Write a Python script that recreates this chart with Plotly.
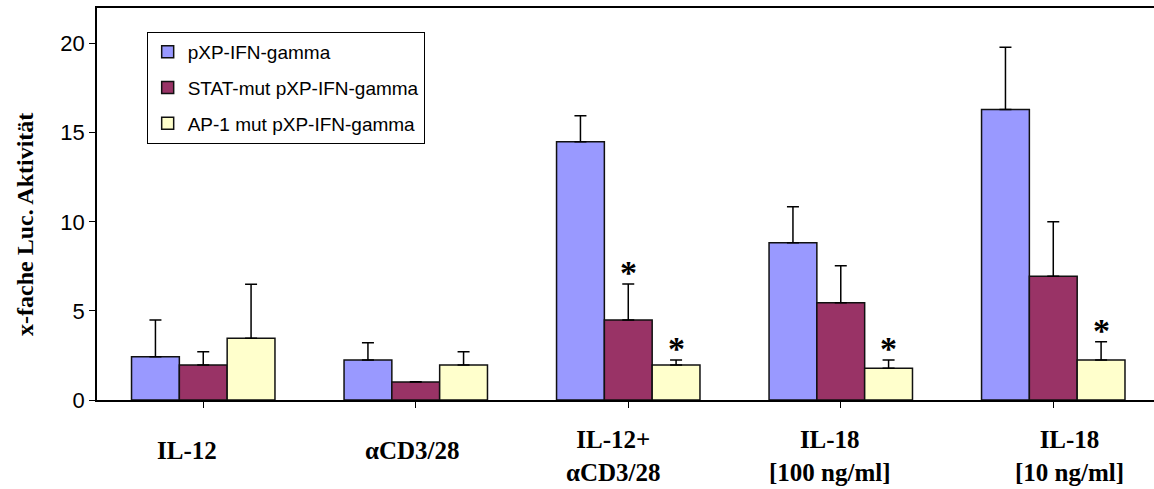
import plotly.graph_objects as go

categories = ["IL-12", "αCD3/28", "IL-12+<br>αCD3/28", "IL-18<br>[100 ng/ml]", "IL-18<br>[10 ng/ml]"]
series_names = ["pXP-IFN-gamma", "STAT-mut pXP-IFN-gamma", "AP-1 mut pXP-IFN-gamma"]
wt_values = [2.43, 2.24, 14.49, 8.82, 16.3]
wt_err = [2.06, 0.97, 1.46, 2.02, 3.5]
stat_values = [1.96, 1.01, 4.49, 5.46, 6.95]
stat_err = [0.75, 0.02, 2.02, 2.07, 3.05]
ap1_values = [3.46, 1.96, 1.96, 1.78, 2.24]
ap1_err = [3.04, 0.75, 0.28, 0.46, 1.03]
# significance markers: (series index, category index)
significant = [(1, 2), (2, 2), (2, 3), (2, 4)]
y_title = "x-fache Luc. Aktivität"

colors = ["#9999FF", "#993366", "#FFFFCC"]
values = [wt_values, stat_values, ap1_values]
errors = [wt_err, stat_err, ap1_err]

xs = list(range(len(categories)))
fig = go.Figure()
for i in range(3):
    fig.add_trace(go.Bar(
        x=xs, y=values[i], name=series_names[i],
        legendgroup=str(i),
        marker=dict(color=colors[i], line=dict(color="#111111", width=1.5)),
        error_y=dict(type="data", symmetric=False, array=errors[i],
                     arrayminus=[0] * len(xs), color="black", thickness=1.5, width=6),
    ))

bargap = 0.325
bw = (1 - bargap) / 3
for s, c in significant:
    fig.add_annotation(x=c + (s - 1) * bw, y=values[s][c] + errors[s][c], xref="x", yref="y",
                       text="<b>*</b>", showarrow=False, yanchor="bottom", yshift=-9,
                       font=dict(family="Liberation Serif", size=34, color="black"))

label_shift = [-16, -3, -15, -11, 16]
for c, lab in enumerate(categories):
    two_line = "<br>" in lab
    fig.add_annotation(x=c, y=0, xref="x", yref="y", text="<b>" + lab + "</b>",
                       showarrow=False, yanchor="middle", xshift=label_shift[c],
                       yshift=-56 if two_line else -50,
                       font=dict(family="Liberation Serif", size=25, color="black"))

fig.add_annotation(x=0, y=(400 - 225) / 392, xref="paper", yref="paper", text="<b>" + y_title + "</b>",
                   textangle=-90, showarrow=False, xanchor="center", yanchor="middle", xshift=-72,
                   font=dict(family="Liberation Serif", size=24, color="black"))

fig.update_layout(
    width=1154, height=489,
    margin=dict(l=97, r=0, t=8, b=89),
    paper_bgcolor="white", plot_bgcolor="white",
    barmode="group", bargap=bargap, bargroupgap=0,
    showlegend=True,
    legend=dict(x=0.047, y=0.939, xanchor="left", yanchor="top",
                bgcolor="white", bordercolor="black", borderwidth=1,
                font=dict(family="Arial", size=19, color="black"),
                traceorder="grouped", tracegroupgap=8, itemwidth=30),
    xaxis=dict(range=[-0.5, 4.474], tickvals=xs, ticktext=[""] * len(xs),
               showticklabels=False, tickson="boundaries", ticks="outside", ticklen=6,
               tickcolor="black", showline=True, linecolor="black", linewidth=1.5,
               mirror=True, showgrid=False, zeroline=False, type="linear"),
    yaxis=dict(range=[0, 22], tickvals=[0, 5, 10, 15, 20], ticks="outside", ticklen=6,
               tickcolor="black", showline=True, linecolor="black", linewidth=1.5,
               showgrid=False, zeroline=False,
               tickfont=dict(family="Arial", size=22, color="black")),
)
fig.write_html("out.html", config={"displayModeBar": False},
               post_script="document.body.style.margin='0';document.body.style.overflow='hidden';")
